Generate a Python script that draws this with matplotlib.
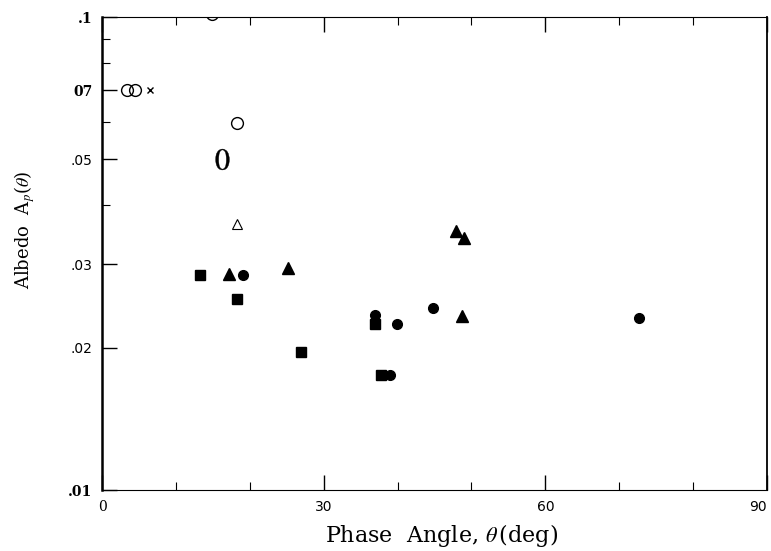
import numpy as np
import matplotlib
matplotlib.use('Agg')
import matplotlib.pyplot as plt
from matplotlib.ticker import FixedLocator, NullFormatter

plt.rcParams['mathtext.fontset'] = 'stix'

# filled symbols
sq_x = [13.3, 18.3, 26.9, 36.9, 37.8]
sq_y = [0.0285, 0.0254, 0.0196, 0.0224, 0.0175]
tri_x = [17.2, 25.2, 47.9, 49.0, 48.7]
tri_y = [0.0286, 0.0294, 0.0353, 0.0341, 0.0233]
circ_x = [19.1, 36.9, 39.0, 39.9, 44.8, 72.7]
circ_y = [0.0285, 0.0234, 0.0175, 0.0224, 0.0242, 0.0231]

# open symbols
ocirc_x = [3.4, 4.5, 14.9, 18.3]
ocirc_y = [0.070, 0.070, 0.1015, 0.0596]
oval_x = [16.2]
oval_y = [0.050]
otri_x = [18.3]
otri_y = [0.0365]
cross_x = [6.5]
cross_y = [0.070]

yticks = [0.01, 0.02, 0.03, 0.05, 0.07, 0.1]
ytick_labels = ['.01', '.02', '.03', '.05', '07', '.1']
yminor = [0.04, 0.06, 0.08, 0.09]
xticks = [0, 30, 60, 90]
xminor = [10, 20, 40, 50, 70, 80]

fig = plt.figure(figsize=(7.71, 5.51), dpi=100)
ax = fig.add_axes([0.1323, 0.1107, 0.8625, 0.8584])

ax.plot(sq_x, sq_y, 's', color='black', ms=6.5, ls='none')
ax.plot(tri_x, tri_y, '^', color='black', ms=8, ls='none')
ax.plot(circ_x, circ_y, 'o', color='black', ms=7, ls='none')
ax.plot(ocirc_x, ocirc_y, 'o', mfc='none', mec='black', mew=1.0, ms=8.5, ls='none')
ax.plot(oval_x, oval_y, marker=r'$\mathrm{0}$', color='black', ms=15, mew=0.3, ls='none')
ax.plot(otri_x, otri_y, '^', mfc='none', mec='black', mew=0.8, ms=7, ls='none')
ax.plot(cross_x, cross_y, 'x', color='black', ms=5, mew=1.0, ls='none')

ax.set_yscale('log')
ax.set_ylim(0.01, 0.1)
ax.set_xlim(0, 90)

ax.yaxis.set_major_locator(FixedLocator(yticks))
ax.set_yticklabels(ytick_labels)
ax.yaxis.set_minor_locator(FixedLocator(yminor))
ax.yaxis.set_minor_formatter(NullFormatter())
ax.set_xticks(xticks)
ax.set_xticklabels([str(t) for t in xticks])
ax.xaxis.set_minor_locator(FixedLocator(xminor))

ax.tick_params(axis='both', which='major', direction='in', length=11, width=1.0,
               labelsize=10, pad=7, top=True, right=False)
ax.tick_params(axis='both', which='minor', direction='in', length=6, width=0.8,
               top=True, right=False)

serif_labels = ['.1', '07', '.01', '0']
for lab in ax.get_yticklabels() + ax.get_xticklabels():
    if lab.get_text() in serif_labels:
        lab.set_family('DejaVu Serif')
        if lab.get_text() != '0':
            lab.set_fontweight('bold')
    if lab.get_text() == '90':
        lab.set_horizontalalignment('right')

ax.spines['left'].set_linewidth(1.8)
ax.spines['right'].set_linewidth(1.3)
ax.spines['top'].set_linewidth(0.8)
ax.spines['bottom'].set_linewidth(0.8)

ax.set_xlabel(r'Phase  Angle, $\theta\,$(deg)', fontsize=16, family='DejaVu Serif')
ax.xaxis.set_label_coords(0.51, -0.068)
ax.set_ylabel(r'Albedo  A$_p$($\theta$)', fontsize=13, family='DejaVu Serif')
ax.yaxis.set_label_coords(-0.098, 0.55)

fig.savefig('out.png', dpi=100)
